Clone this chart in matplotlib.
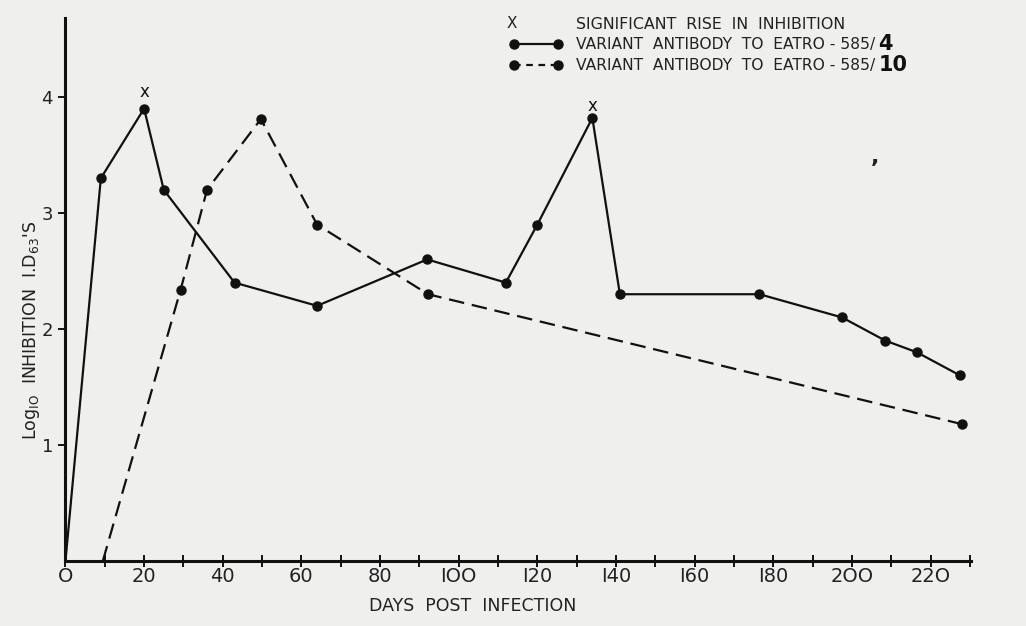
import matplotlib
matplotlib.use("Agg")
import matplotlib.pyplot as plt
from matplotlib.lines import Line2D

# data
days_4 = [0, 9, 20, 25, 43, 64, 92, 112, 120, 134, 141, 176.5, 197.5, 208.5, 216.5, 227.5]
inhib_4 = [0, 3.3, 3.9, 3.2, 2.4, 2.2, 2.6, 2.4, 2.9, 3.82, 2.3, 2.3, 2.1, 1.9, 1.8, 1.6]

days_10 = [9.5, 29.3, 36, 49.7, 64, 92.2, 228]
inhib_10 = [0, 2.34, 3.2, 3.81, 2.9, 2.3, 1.18]

rise_days = [20, 134]
rise_level = [4.04, 3.92]

xticks_major = list(range(0, 221, 20))
xtick_labels = ["O", "20", "40", "60", "80", "IOO", "I20", "I40", "I60", "I80", "2OO", "22O"]
yticks = [1, 2, 3, 4]

bg = "#efefed"
fig = plt.figure(figsize=(10.26, 6.26), dpi=100, facecolor=bg)
ax = fig.add_axes([0.0638, 0.1038, 0.8826, 0.8672])
ax.set_facecolor(bg)

ax.plot(days_4, inhib_4, color="#111111", lw=1.6, marker="o", ms=6.5,
        markevery=list(range(1, len(days_4))))
ax.plot(days_10, inhib_10, color="#111111", lw=1.6, marker="o", ms=6.5,
        dashes=(7, 3.5), markevery=list(range(1, len(days_10))))
for d, lv in zip(rise_days, rise_level):
    ax.text(d, lv, "x", ha="center", va="center", fontsize=12, color="#111111")

ax.set_xlim(0, 230.3)
ax.set_ylim(0, 4.68)
for s in ["top", "right"]:
    ax.spines[s].set_visible(False)
ax.spines["left"].set_linewidth(2.2)
ax.spines["bottom"].set_linewidth(2.2)
ax.spines["left"].set_color("#111111")
ax.spines["bottom"].set_color("#111111")

ax.set_xticks(xticks_major)
ax.set_xticklabels(xtick_labels, fontsize=14, color="#222222")
ax.set_xticks(list(range(10, 231, 20)), minor=True)
ax.tick_params(axis="x", which="both", direction="inout", length=9, width=1.3, pad=0)
ax.set_yticks(yticks)
ax.set_yticklabels([str(v) for v in yticks], fontsize=13, color="#222222")
ax.tick_params(axis="y", direction="out", length=5, width=1.3, pad=4)

ax.set_xlabel("DAYS  POST  INFECTION", fontsize=12.5, color="#222222")
ax.xaxis.set_label_coords(0.45, -0.066)
ax.set_ylabel(r"L$\mathregular{og}_{\mathregular{IO}}$  INHIBITION  I.D$_{\mathregular{63}}$'S",
              fontsize=12.5, color="#222222", va="center")
ax.yaxis.set_label_coords(-0.037, 0.425)

# legend drawn by hand
fig.text(0.494, 0.963, "X", fontsize=11, ha="left", va="center", color="#222222")
fig.text(0.561, 0.961, "SIGNIFICANT  RISE  IN  INHIBITION", fontsize=11.4, ha="left", va="center", color="#222222")
fig.add_artist(Line2D([0.501, 0.544], [0.929, 0.929], color="#111111", lw=1.6,
                      marker="o", ms=6.5, transform=fig.transFigure))
fig.text(0.561, 0.929, "VARIANT  ANTIBODY  TO  EATRO - 585/", fontsize=11.2, ha="left", va="center", color="#222222")
fig.text(0.856, 0.929, "4", fontsize=15, fontweight="bold", ha="left", va="center", color="#111111")
fig.add_artist(Line2D([0.501, 0.544], [0.896, 0.896], color="#111111", lw=1.6, dashes=(3, 2.5),
                      marker="o", ms=6.5, transform=fig.transFigure))
fig.text(0.561, 0.896, "VARIANT  ANTIBODY  TO  EATRO - 585/", fontsize=11.2, ha="left", va="center", color="#222222")
fig.text(0.856, 0.896, "10", fontsize=15, fontweight="bold", ha="left", va="center", color="#111111")
fig.text(0.849, 0.74, ",", fontsize=16, fontweight="bold", color="#222222")

fig.savefig("out.png", dpi=100, facecolor=bg)
